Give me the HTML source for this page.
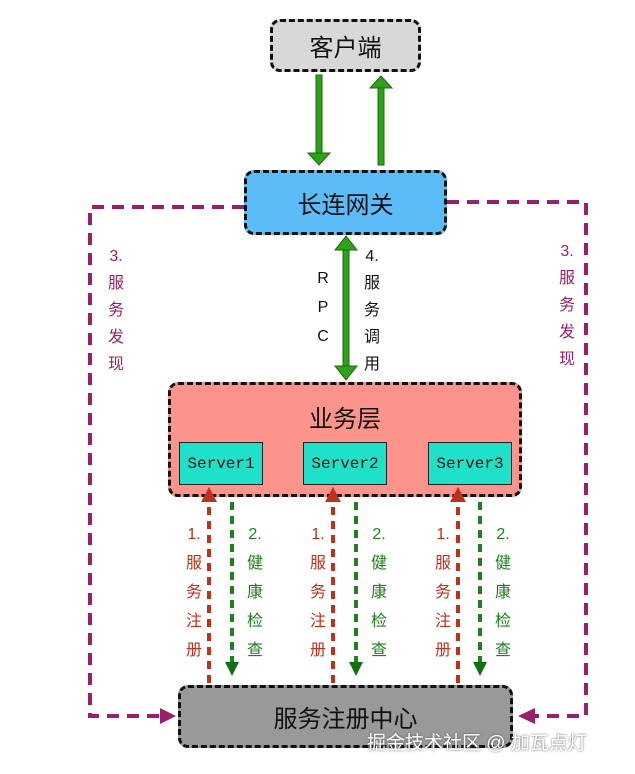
<!DOCTYPE html>
<html><head><meta charset="utf-8"><style>
body{margin:0;background:#fff;width:635px;height:774px;overflow:hidden;position:relative;font-family:"Liberation Sans","Noto Sans CJK SC",sans-serif}
.b{position:absolute;box-sizing:border-box;border:3px dashed #111;border-radius:10px;display:flex;align-items:center;justify-content:center;color:#111}
.s{position:absolute;box-sizing:border-box;border:1.5px solid #222;background:#1fe0c8;font-family:"Liberation Mono",monospace;font-size:16px;display:flex;align-items:center;justify-content:center;color:#111}
.v{position:absolute;font-size:16px;line-height:29px;text-align:center;width:20px}
</style></head><body>
<svg width="635" height="774" style="position:absolute;left:0;top:0">
<g fill="none" stroke="#9b1f6a" stroke-width="4" stroke-dasharray="12,8">
<polyline points="244,207 90,207 90,716 160,716"/>
<polyline points="447,202 586,202 586,716 535,716"/>
</g>
<polygon points="160,708 176,716 160,724" fill="#9b1f6a"/>
<polygon points="535,708 518,716 535,724" fill="#9b1f6a"/>
<g stroke="#1a6a0a" stroke-width="1" fill="#2ea11a">
<rect x="316" y="75" width="6" height="78"/><polygon points="308,153 330,153 319,165"/>
<rect x="378" y="88" width="6" height="77"/><polygon points="370,88 392,88 381,76"/>
<rect x="343" y="250" width="6" height="116"/><polygon points="335,250 357,250 346,236"/><polygon points="335,366 357,366 346,380"/>
</g>
<g stroke-width="4" stroke-dasharray="8,6">
<line x1="209" y1="683" x2="209" y2="502" stroke="#c0301a"/>
<line x1="333" y1="683" x2="333" y2="502" stroke="#c0301a"/>
<line x1="458" y1="683" x2="458" y2="502" stroke="#c0301a"/>
<line x1="232" y1="488" x2="232" y2="662" stroke="#208020"/>
<line x1="356" y1="488" x2="356" y2="662" stroke="#208020"/>
<line x1="480" y1="488" x2="480" y2="662" stroke="#208020"/>
</g>
</svg>
<div class="b" style="left:270px;top:19px;width:151px;height:53px;background:#d8d8d8;font-size:24px">客户端</div>
<div class="b" style="left:244px;top:170px;width:203px;height:65px;background:#5bbcf8;font-size:24px">长连网关</div>
<div class="b" style="left:168px;top:382px;width:354px;height:115px;background:#fd948c;font-size:24px;align-items:flex-start;padding-top:14px">业务层</div>
<div class="s" style="left:179px;top:442px;width:84px;height:43px">Server1</div>
<div class="s" style="left:303px;top:442px;width:84px;height:43px">Server2</div>
<div class="s" style="left:428px;top:442px;width:84px;height:43px">Server3</div>
<div class="b" style="left:178px;top:685px;width:335px;height:63px;background:#999;font-size:24px">服务注册中心</div>
<svg width="635" height="774" style="position:absolute;left:0;top:0">
<g fill="#c0301a"><polygon points="201,502 217,502 209,487"/><polygon points="325,502 341,502 333,487"/><polygon points="450,502 466,502 458,487"/></g>
<g fill="#107010"><polygon points="225,662 239,662 232,676"/><polygon points="349,662 363,662 356,676"/><polygon points="473,662 487,662 480,676"/></g>
</svg>
<div class="v" style="left:313px;top:264px;color:#111;line-height:29px">R<br>P<br>C</div>
<div class="v" style="left:362px;top:243px;color:#111;line-height:27px">4.<br>服<br>务<br>调<br>用</div>
<div class="v" style="left:106px;top:243px;color:#9b1f6a;line-height:27px">3.<br>服<br>务<br>发<br>现</div>
<div class="v" style="left:557px;top:238px;color:#9b1f6a;line-height:27px">3.<br>服<br>务<br>发<br>现</div>
<div class="v" style="left:184px;top:520px;color:#c0301a">1.<br>服<br>务<br>注<br>册</div>
<div class="v" style="left:308px;top:520px;color:#c0301a">1.<br>服<br>务<br>注<br>册</div>
<div class="v" style="left:433px;top:520px;color:#c0301a">1.<br>服<br>务<br>注<br>册</div>
<div class="v" style="left:245px;top:520px;color:#208020">2.<br>健<br>康<br>检<br>查</div>
<div class="v" style="left:369px;top:520px;color:#208020">2.<br>健<br>康<br>检<br>查</div>
<div class="v" style="left:493px;top:520px;color:#208020">2.<br>健<br>康<br>检<br>查</div>
<div style="position:absolute;left:367px;top:728px;font-size:19px;color:#fff;text-shadow:0 0 2px #555;white-space:nowrap">掘金技术社区 @ 加瓦点灯</div>
</body></html>
